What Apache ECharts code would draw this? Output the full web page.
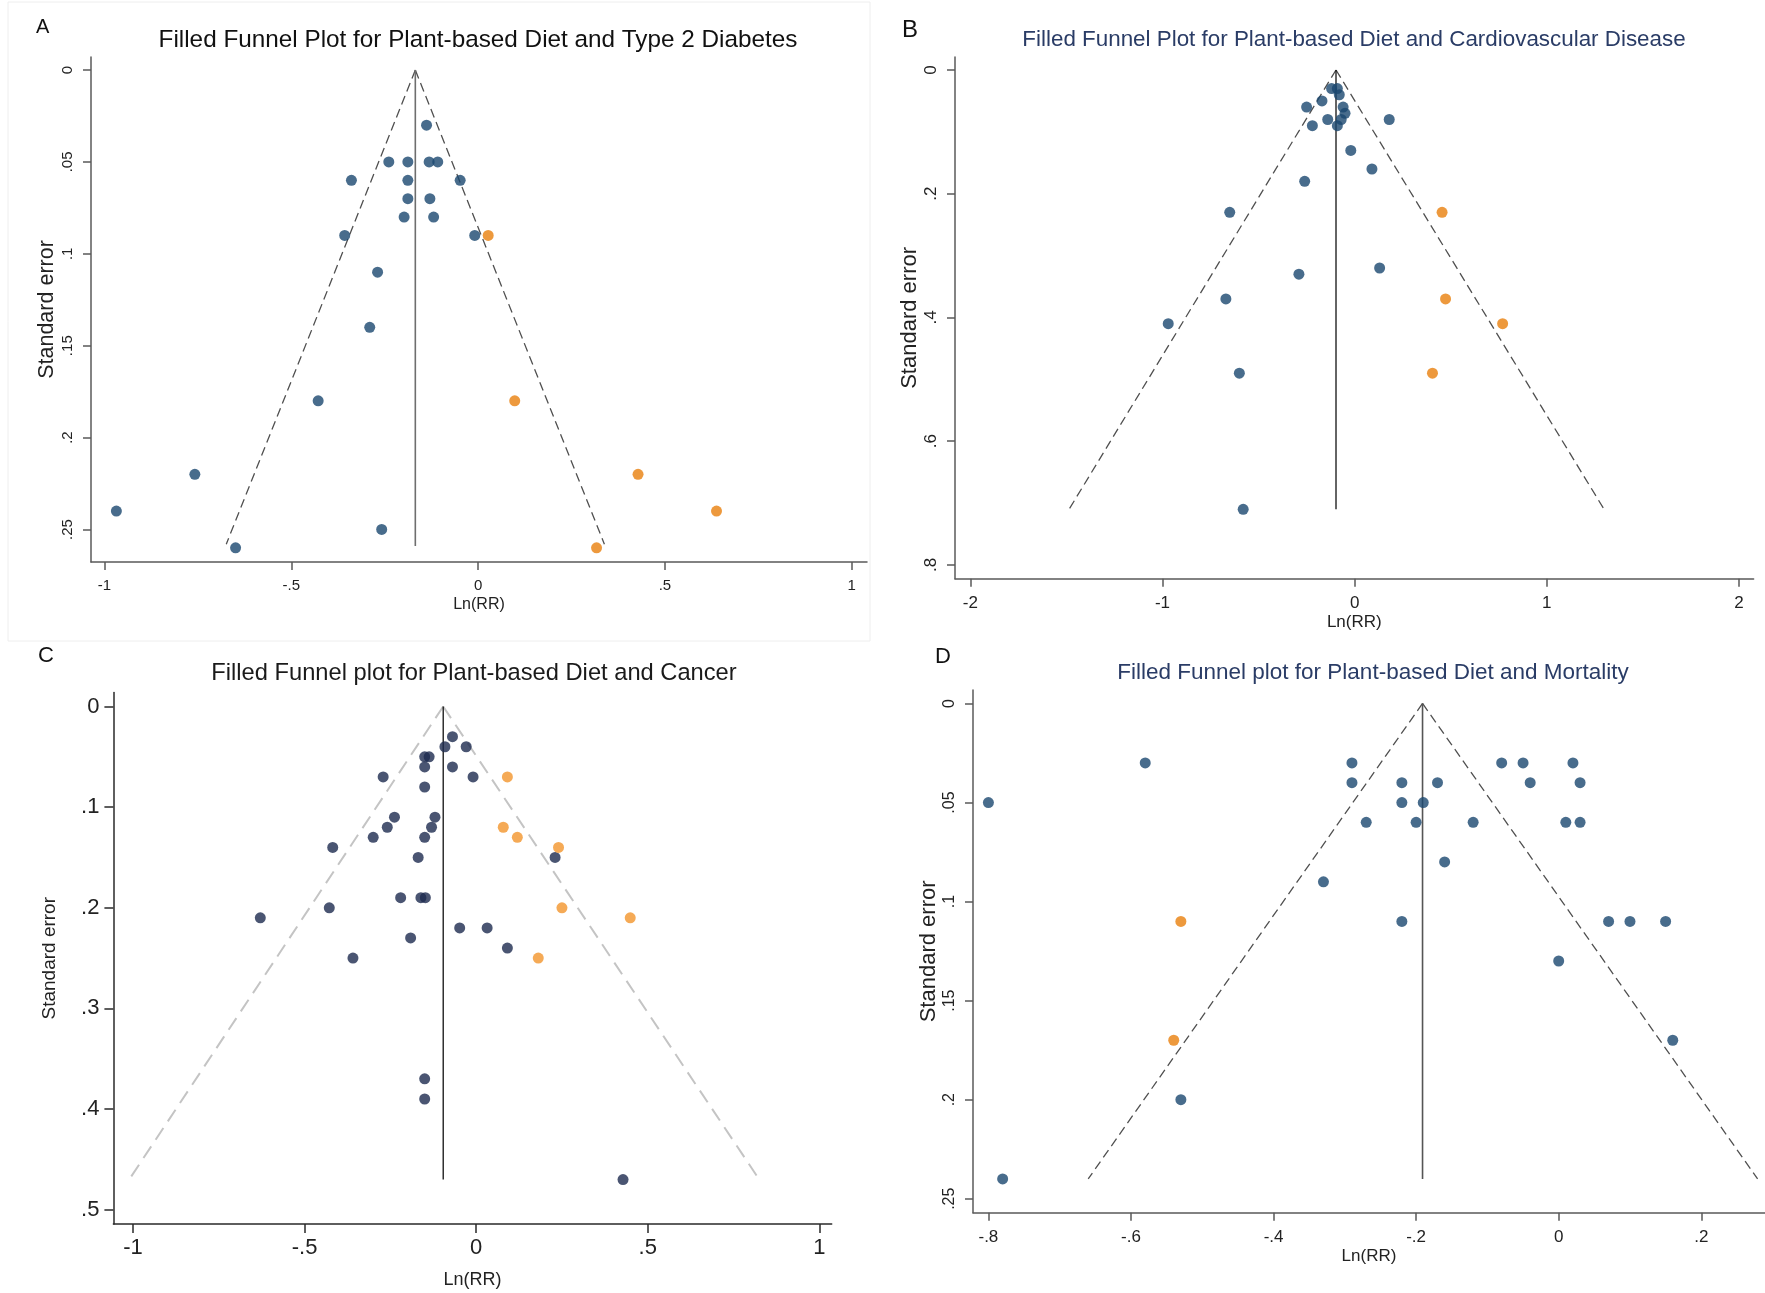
<!DOCTYPE html>
<html>
<head>
<meta charset="utf-8">
<script src="https://cdn.jsdelivr.net/npm/echarts@6/dist/echarts.min.js"></script>
<style>
html,body{margin:0;padding:0;background:#fff;}
#c{width:1765px;height:1293px;}
</style>
</head>
<body>
<div id="c"></div>
<script>
// ---------- DATA (Ln(RR), standard error) ----------
const titles = [
  'Filled Funnel Plot for Plant-based Diet and Type 2 Diabetes',
  'Filled Funnel Plot for Plant-based Diet and Cardiovascular Disease',
  'Filled Funnel plot for Plant-based Diet and Cancer',
  'Filled Funnel plot for Plant-based Diet and Mortality'
];
const panelLetters = ['A', 'B', 'C', 'D'];
const xName = 'Ln(RR)';
const yName = 'Standard error';

// Panel A: Type 2 Diabetes
const A_observed = [[-0.138,0.03],[-0.239,0.05],[-0.188,0.05],[-0.131,0.05],[-0.108,0.05],[-0.339,0.06],[-0.188,0.06],[-0.048,0.06],
  [-0.188,0.07],[-0.129,0.07],[-0.198,0.08],[-0.119,0.08],[-0.357,0.09],[-0.009,0.09],[-0.269,0.11],[-0.290,0.14],[-0.428,0.18],
  [-0.758,0.22],[-0.968,0.24],[-0.258,0.25],[-0.649,0.26]];
const A_filled = [[0.027,0.09],[0.098,0.18],[0.428,0.22],[0.638,0.24],[0.317,0.26]];
const A_funnelLeft = [[-0.168,0],[-0.674,0.258]];
const A_funnelRight = [[-0.168,0],[0.338,0.258]];
const A_pooled = [[-0.168,0],[-0.168,0.259]];
const A_xTicks = [-1,-0.5,0,0.5,1];
const A_yTicks = [0,0.05,0.1,0.15,0.2,0.25];

// Panel B: Cardiovascular Disease
const B_observed = [[-0.12,0.03],[-0.09,0.03],[-0.08,0.04],[-0.17,0.05],[-0.25,0.06],[-0.06,0.06],[-0.05,0.07],[-0.07,0.08],
  [-0.14,0.08],[0.18,0.08],[-0.22,0.09],[-0.09,0.09],[-0.02,0.13],[0.09,0.16],[-0.26,0.18],[-0.65,0.23],[0.13,0.32],
  [-0.29,0.33],[-0.67,0.37],[-0.97,0.41],[-0.60,0.49],[-0.58,0.71]];
const B_filled = [[0.455,0.23],[0.473,0.37],[0.77,0.41],[0.405,0.49]];
const B_funnelLeft = [[-0.097,0],[-1.486,0.71]];
const B_funnelRight = [[-0.097,0],[1.298,0.71]];
const B_pooled = [[-0.097,0],[-0.097,0.71]];
const B_xTicks = [-2,-1,0,1,2];
const B_yTicks = [0,0.2,0.4,0.6,0.8];

// Panel C: Cancer
const C_observed = [[-0.069,0.03],[-0.091,0.04],[-0.029,0.04],[-0.150,0.05],[-0.137,0.05],[-0.150,0.06],[-0.069,0.06],
  [-0.271,0.07],[-0.009,0.07],[-0.150,0.08],[-0.238,0.11],[-0.120,0.11],[-0.259,0.12],[-0.130,0.12],[-0.300,0.13],
  [-0.150,0.13],[-0.418,0.14],[-0.169,0.15],[0.230,0.15],[-0.220,0.19],[-0.161,0.19],[-0.148,0.19],[-0.428,0.20],
  [-0.629,0.21],[-0.048,0.22],[0.032,0.22],[-0.191,0.23],[0.091,0.24],[-0.359,0.25],[-0.150,0.37],[-0.150,0.39],[0.428,0.47]];
const C_filled = [[0.091,0.07],[0.079,0.12],[0.120,0.13],[0.240,0.14],[0.250,0.20],[0.449,0.21],[0.181,0.25]];
const C_funnelLeft = [[-0.096,0],[-1.011,0.47]];
const C_funnelRight = [[-0.096,0],[0.825,0.47]];
const C_pooled = [[-0.096,0],[-0.096,0.47]];
const C_xTicks = [-1,-0.5,0,0.5,1];
const C_yTicks = [0,0.1,0.2,0.3,0.4,0.5];

// Panel D: Mortality
const D_observed = [[-0.80,0.05],[-0.58,0.03],[-0.29,0.03],[-0.08,0.03],[-0.05,0.03],[0.02,0.03],[-0.29,0.04],[-0.22,0.04],
  [-0.17,0.04],[-0.04,0.04],[0.03,0.04],[-0.22,0.05],[-0.19,0.05],[-0.27,0.06],[-0.20,0.06],[-0.12,0.06],[0.01,0.06],
  [0.03,0.06],[-0.16,0.08],[-0.33,0.09],[-0.22,0.11],[0.07,0.11],[0.10,0.11],[0.15,0.11],[0.00,0.13],[0.16,0.17],
  [-0.53,0.20],[-0.78,0.24]];
const D_filled = [[-0.53,0.11],[-0.54,0.17]];
const D_funnelLeft = [[-0.191,0],[-0.660,0.24]];
const D_funnelRight = [[-0.191,0],[0.279,0.24]];
const D_pooled = [[-0.191,0],[-0.191,0.24]];
const D_xTicks = [-0.8,-0.6,-0.4,-0.2,0,0.2];
const D_yTicks = [0,0.05,0.1,0.15,0.2,0.25];

// ---------- STYLE / LAYOUT ----------
const FONT = '"Liberation Sans", Arial, sans-serif';
const fmt = v => {
  let s = String(Math.round(v * 1000) / 1000);
  return s.replace(/^(-?)0\./, '$1.');
};

const panels = [
  { obs: A_observed, fill: A_filled, fl: A_funnelLeft, fr: A_funnelRight, pool: A_pooled, xt: A_xTicks, yt: A_yTicks,
    grid: {left: 91, top: 57, width: 776, height: 505}, xr: [-1.0359, 1.0407], yr: [-0.0071, 0.2677],
    navy: '#1a476f', orange: '#e8800c', axisColor: '#5a5a5a', poolColor: '#6e6e6e', poolW: 1.6,
    funColor: '#505050', funW: 1.3, dash: [9, 5], xFont: 15, yFont: 15, yRot: 90, xMargin: 16, yMargin: 16,
    xNameFont: 16, xNameGap: 35, yNameFont: 21.5, yNameGap: 33, tickLen: 8 },
  { obs: B_observed, fill: B_filled, fl: B_funnelLeft, fr: B_funnelRight, pool: B_pooled, xt: B_xTicks, yt: B_yTicks,
    grid: {left: 955, top: 57, width: 798.6, height: 521.8}, xr: [-2.0796, 2.076], yr: [-0.021, 0.8223],
    navy: '#1a476f', orange: '#e8800c', axisColor: '#5a5a5a', poolColor: '#111111', poolW: 1.3,
    funColor: '#505050', funW: 1.3, dash: [9, 5], xFont: 17, yFont: 17, yRot: 90, xMargin: 16, yMargin: 15,
    xNameFont: 17, xNameGap: 35, yNameFont: 22, yNameGap: 34, tickLen: 8 },
  { obs: C_observed, fill: C_filled, fl: C_funnelLeft, fr: C_funnelRight, pool: C_pooled, xt: C_xTicks, yt: C_yTicks,
    grid: {left: 113.4, top: 692.5, width: 718.3, height: 531.5}, xr: [-1.0571, 1.0361], yr: [-0.0139, 0.5142],
    navy: '#1d2b4f', orange: '#f2952c', axisColor: '#2a2a2a', poolColor: '#111111', poolW: 1.3,
    funColor: '#c4c4c4', funW: 2, dash: [14, 8], xFont: 22, yFont: 22, yRot: 0, xMargin: 13, yMargin: 14,
    xNameFont: 18, xNameGap: 47, yNameFont: 19, yNameGap: 54, tickLen: 9 },
  { obs: D_observed, fill: D_filled, fl: D_funnelLeft, fr: D_funnelRight, pool: D_pooled, xt: D_xTicks, yt: D_yTicks,
    grid: {left: 973, top: 690, width: 792, height: 522.8}, xr: [-0.8216, 0.2894], yr: [-0.0068, 0.2571],
    navy: '#1a476f', orange: '#e8800c', axisColor: '#5a5a5a', poolColor: '#555555', poolW: 1.6,
    funColor: '#505050', funW: 1.3, dash: [9, 5], xFont: 17, yFont: 16, yRot: 90, xMargin: 16, yMargin: 15,
    xNameFont: 17, xNameGap: 35, yNameFont: 22, yNameGap: 33, tickLen: 8 }
];

const titleStyle = [
  {x: 478, y: 40, size: 24.3, color: '#111111'},
  {x: 1354, y: 40, size: 22.4, color: '#2a3c66'},
  {x: 474, y: 673, size: 23.7, color: '#1a1a1a'},
  {x: 1373, y: 673, size: 22.5, color: '#2a3c66'}
];
const letterStyle = [
  {x: 36, y: 27, size: 20}, {x: 902, y: 30, size: 24}, {x: 38, y: 656, size: 22}, {x: 935, y: 657, size: 22}
];

const grids = [], xAxes = [], yAxes = [], series = [], graphics = [];
panels.forEach((p, i) => {
  grids.push(Object.assign({containLabel: false}, p.grid));
  xAxes.push({
    type: 'value', gridIndex: i, min: p.xr[0], max: p.xr[1],
    name: xName, nameLocation: 'middle', nameGap: p.xNameGap,
    nameTextStyle: {fontFamily: FONT, fontSize: p.xNameFont, color: '#222'},
    axisLine: {show: true, onZero: false, lineStyle: {color: p.axisColor, width: 1.5}},
    axisTick: {show: true, length: p.tickLen, customValues: p.xt, lineStyle: {color: p.axisColor, width: 1.5}},
    axisLabel: {show: true, customValues: p.xt, formatter: fmt, margin: p.xMargin,
      fontFamily: FONT, fontSize: p.xFont, color: '#222'},
    splitLine: {show: false}
  });
  yAxes.push({
    type: 'value', gridIndex: i, inverse: true, min: p.yr[0], max: p.yr[1],
    name: yName, nameLocation: 'middle', nameGap: p.yNameGap,
    nameTextStyle: {fontFamily: FONT, fontSize: p.yNameFont, color: '#222'},
    axisLine: {show: true, onZero: false, lineStyle: {color: p.axisColor, width: 1.5}},
    axisTick: {show: true, length: p.tickLen, customValues: p.yt, lineStyle: {color: p.axisColor, width: 1.5}},
    axisLabel: {show: true, customValues: p.yt, formatter: fmt, margin: p.yMargin, rotate: p.yRot,
      fontFamily: FONT, fontSize: p.yFont, color: '#222'},
    splitLine: {show: false}
  });
  const lineSeries = (data, color, width, type, z) => ({
    type: 'line', xAxisIndex: i, yAxisIndex: i, data: data, symbol: 'none', silent: true, z: z,
    lineStyle: {color: color, width: width, type: type}, animation: false
  });
  series.push(lineSeries(p.fl, p.funColor, p.funW, p.dash, 1));
  series.push(lineSeries(p.fr, p.funColor, p.funW, p.dash, 1));
  series.push(lineSeries(p.pool, p.poolColor, p.poolW, 'solid', 2));
  series.push({type: 'scatter', xAxisIndex: i, yAxisIndex: i, data: p.obs, symbol: 'circle', symbolSize: 11,
    itemStyle: {color: p.navy}, z: 3, animation: false});
  series.push({type: 'scatter', xAxisIndex: i, yAxisIndex: i, data: p.fill, symbol: 'circle', symbolSize: 11,
    itemStyle: {color: p.orange}, z: 3, animation: false});

  const t = titleStyle[i];
  graphics.push({type: 'text', x: t.x, y: t.y, style: {text: titles[i], fontFamily: FONT, fontSize: t.size,
    fill: t.color, align: 'center', verticalAlign: 'middle'}});
  const l = letterStyle[i];
  graphics.push({type: 'text', x: l.x, y: l.y, style: {text: panelLetters[i], fontFamily: FONT, fontSize: l.size,
    fill: '#111', align: 'left', verticalAlign: 'middle'}});
});
// faint panel frame around panel A
graphics.push({type: 'rect', shape: {x: 8, y: 2, width: 862, height: 639}, z: -1,
  style: {fill: 'none', stroke: '#eeeeee', lineWidth: 1}});

const chart = echarts.init(document.getElementById('c'), null, {renderer: 'canvas'});
chart.setOption({
  backgroundColor: '#ffffff',
  animation: false,
  grid: grids, xAxis: xAxes, yAxis: yAxes, series: series, graphic: graphics
});
</script>
</body>
</html>
